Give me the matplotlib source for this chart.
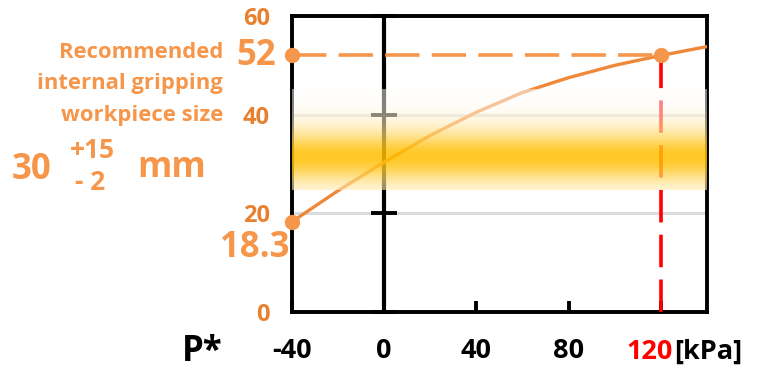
import numpy as np
import matplotlib.pyplot as plt

# data
pressure = [-40, -20, 0, 20, 40, 60, 80, 100, 120, 140]   # P* [kPa]
size = [18.3, 24.6, 30.4, 35.8, 40.5, 44.5, 47.5, 50.0, 52.0, 53.8]  # mm
target_p = 120
target_size = 52
min_p = -40
min_size = 18.3
band_lo, band_hi, band_mid = 24.7, 45.0, 31.4
xticks = [-40, 0, 40, 80]
yticks = [0, 20, 40, 60]

orange = '#F0883A'
light_orange = '#F5964A'
tick_orange = '#E8812F'
font = 'Open Sans'

W, H = 760, 373
fig = plt.figure(figsize=(W / 100, H / 100), dpi=100)
ax = fig.add_axes([292 / W, 1 - 312 / H, (707 - 292) / W, (312 - 16) / H])
ax.set_xlim(-40, 140)
ax.set_ylim(0, 60)

for s in ax.spines.values():
    s.set_linewidth(2.8)
    s.set_color('black')

# grid
ax.set_yticks(yticks)
ax.set_yticklabels([str(v) for v in yticks], color=tick_orange, fontsize=17,
                   fontweight='bold', family=font)
ax.tick_params(axis='y', length=0, pad=16)
ax.yaxis.grid(True, color='#DCDCDC', lw=2.2, zorder=0)
ax.set_axisbelow(True)

ax.set_xticks(xticks + [target_p])
ax.set_xticklabels([str(v) for v in xticks] + [''], fontsize=19.5,
                   fontweight='bold', family=font)
ax.tick_params(axis='x', direction='in', length=8, width=2.8, pad=19)

# vertical axis at P* = 0 with its ticks
ax.axvline(0, color='black', lw=3.0, zorder=3)
ax.plot([0] * len(yticks), yticks, ls='none', marker='_', ms=19, mew=2.8,
        color='black', zorder=3, clip_on=False)

# curve and guides
ax.plot(pressure, size, color=orange, lw=2.4, zorder=4)
ax.plot([min_p, target_p], [target_size, target_size], color=light_orange,
        lw=2.6, dashes=(9.5, 3.4), dash_capstyle='butt', zorder=4)
ax.plot([target_p, target_p], [0, target_size], color='red', lw=2.6,
        dashes=(9, 3.4), zorder=4)
ax.plot([min_p, min_p, target_p], [min_size, target_size, target_size], 'o',
        color=light_orange, ms=10, clip_on=False, zorder=12)

# recommended size band (gradient overlay)
yy = np.linspace(band_hi, band_lo, 200)
w = np.exp(-((yy - band_mid) / 6.0) ** 2)
rgba = np.zeros((200, 1, 4))
yellow = np.array([1.0, 0.75, 0.0])
rgba[:, 0, :3] = (1 - w)[:, None] * 1.0 + w[:, None] * yellow
rgba[:, 0, 3] = 0.5 + 0.35 * w
ax.imshow(rgba, extent=[-40, 140, band_lo, band_hi], aspect='auto',
          zorder=10, interpolation='bilinear')
ax.set_xlim(-40, 140)
ax.set_ylim(0, 60)


def ftext(x, y, s, **kw):
    fig.text(x / W, 1 - y / H, s, **kw)


ftext(276, 56, str(target_size), ha='right', va='center', fontsize=25,
      fontweight='bold', color=light_orange, family=font)
ftext(289, 248, str(min_size), ha='right', va='center', fontsize=25,
      fontweight='bold', color=light_orange, family=font)
for i, line in enumerate(['Recommended', 'internal gripping', 'workpiece size']):
    ftext(223, 52 + i * 31.5, line, ha='right', va='center', fontsize=15.8,
          fontweight='bold', color=light_orange, family=font)
ftext(12, 170, '30', ha='left', va='center', fontsize=25, fontweight='bold',
      color=light_orange, family=font)
ftext(70, 150, '+15', ha='left', va='center', fontsize=19, fontweight='bold',
      color=light_orange, family=font)
ftext(75, 183, '- 2', ha='left', va='center', fontsize=19, fontweight='bold',
      color=light_orange, family=font)
ftext(137, 168, 'mm', ha='left', va='center', fontsize=25, fontweight='bold',
      color=light_orange, family=font)

ftext(202, 352, 'P*', ha='center', va='center', fontsize=25, fontweight='bold',
      color='black', family=font)
ftext(650, 352, str(target_p), ha='center', va='center', fontsize=19.5,
      fontweight='bold', color='red', family=font)
ftext(674, 352, '[kPa]', ha='left', va='center', fontsize=19.5,
      fontweight='bold', color='black', family=font)

fig.savefig('out.png', dpi=100)
